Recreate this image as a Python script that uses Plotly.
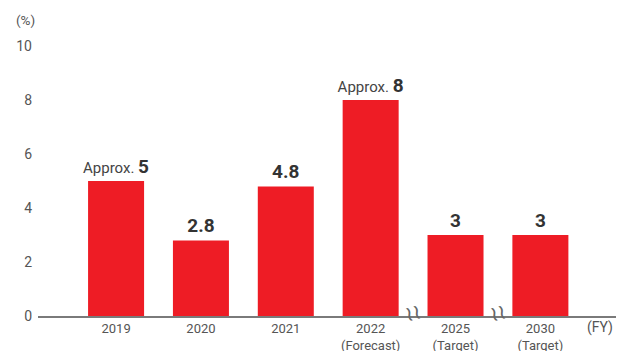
import plotly.graph_objects as go

categories = ["2019", "2020", "2021", "2022<br>(Forecast)", "2025<br>(Target)", "2030<br>(Target)"]
values = [5, 2.8, 4.8, 8, 3, 3]
prefixes = ["Approx. ", "", "", "Approx. ", "", ""]
y_ticks = [0, 2, 4, 6, 8, 10]

labels = []
for p, v in zip(prefixes, values):
    vs = f"{v:g}"
    if p:
        labels.append(f"<span style='font-size:15px;font-weight:normal;color:#444'>{p}</span><b>{vs}</b>")
    else:
        labels.append(f"<b>{vs}</b>")

fig = go.Figure(go.Bar(
    x=categories, y=values, width=0.66,
    marker=dict(color="#ee1c25", line=dict(width=0)),
    text=labels, textposition="outside", cliponaxis=False, constraintext="none",
    textfont=dict(family="Roboto", size=19, color="#333"),
    hoverinfo="skip",
))

fig.update_layout(
    width=616, height=343,
    margin=dict(l=30, r=3, t=38, b=35),
    plot_bgcolor="white", paper_bgcolor="white",
    showlegend=False,
    xaxis=dict(type="category", range=[-0.92, 5.95], showline=True, linecolor="#7a7a7a",
               linewidth=1.5, ticks="", showgrid=False, automargin=False,
               tickfont=dict(family="Roboto", size=13, color="#555")),
    yaxis=dict(range=[0, 10], tickvals=y_ticks, showgrid=False, zeroline=False, showline=False,
               ticks="", ticklabelstandoff=5, automargin=False,
               tickfont=dict(family="Roboto", size=14, color="#555")),
    annotations=[
        dict(text="(%)", xref="paper", yref="paper", x=-0.021, y=1.096, xanchor="center", yanchor="middle",
             showarrow=False, font=dict(family="Roboto", size=13.5, color="#555")),
        dict(text="(FY)", xref="paper", yref="paper", x=0.99, y=-0.044, xanchor="right", yanchor="middle",
             showarrow=False, font=dict(family="Roboto", size=14, color="#555")),
        dict(text="≀≀", x=3.5, y=0.12, xref="x", yref="y", showarrow=False, textangle=-15,
             font=dict(family="DejaVu Sans", size=21, color="#666")),
        dict(text="≀≀", x=4.5, y=0.12, xref="x", yref="y", showarrow=False, textangle=-15,
             font=dict(family="DejaVu Sans", size=21, color="#666")),
    ],
)

fig.write_html("out.html")
